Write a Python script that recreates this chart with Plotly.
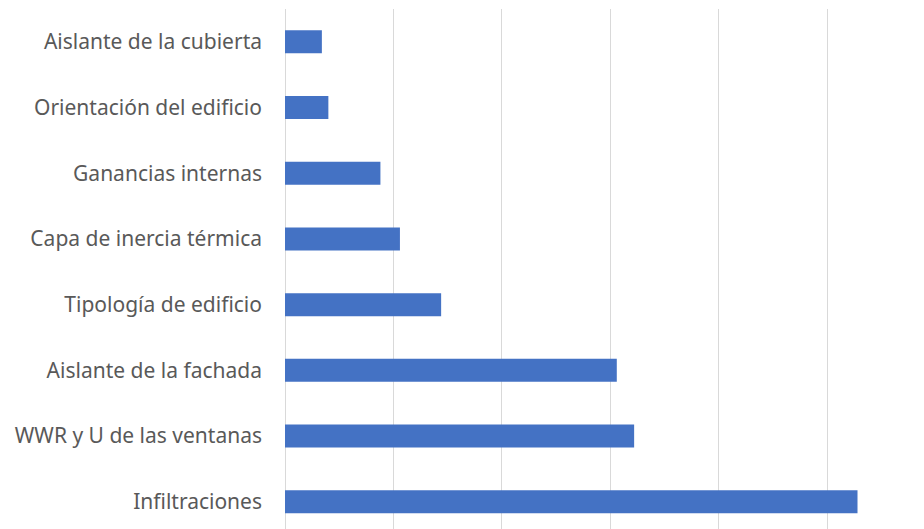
import plotly.graph_objects as go

# Factors, listed bottom to top
factors = [
    "Infiltraciones",
    "WWR y U de las ventanas",
    "Aislante de la fachada",
    "Tipología de edificio",
    "Capa de inercia térmica",
    "Ganancias internas",
    "Orientación del edificio",
    "Aislante de la cubierta",
]
influence = [26.4, 16.1, 15.3, 7.2, 5.3, 4.4, 2.0, 1.7]

fig = go.Figure(
    go.Bar(
        x=influence,
        y=factors,
        orientation="h",
        marker=dict(color="#4472C4", line=dict(width=0)),
        width=0.35,
    )
)

fig.update_layout(
    width=924,
    height=529,
    margin=dict(l=285, r=24, t=9, b=0),
    paper_bgcolor="white",
    plot_bgcolor="white",
    showlegend=False,
    font=dict(family="Noto Sans", size=21, color="#595959"),
)

fig.update_xaxes(
    range=[0, 28.36],
    dtick=5,
    showgrid=True,
    gridcolor="#d9d9d9",
    gridwidth=1,
    zeroline=True,
    zerolinecolor="#d9d9d9",
    zerolinewidth=1,
    showticklabels=False,
    showline=False,
)

fig.update_yaxes(
    categoryorder="array",
    categoryarray=factors,
    range=[-0.415, 7.5],
    showgrid=False,
    zeroline=False,
    showline=False,
    ticks="",
    ticklabelstandoff=22,
)

fig.write_html("out.html")
